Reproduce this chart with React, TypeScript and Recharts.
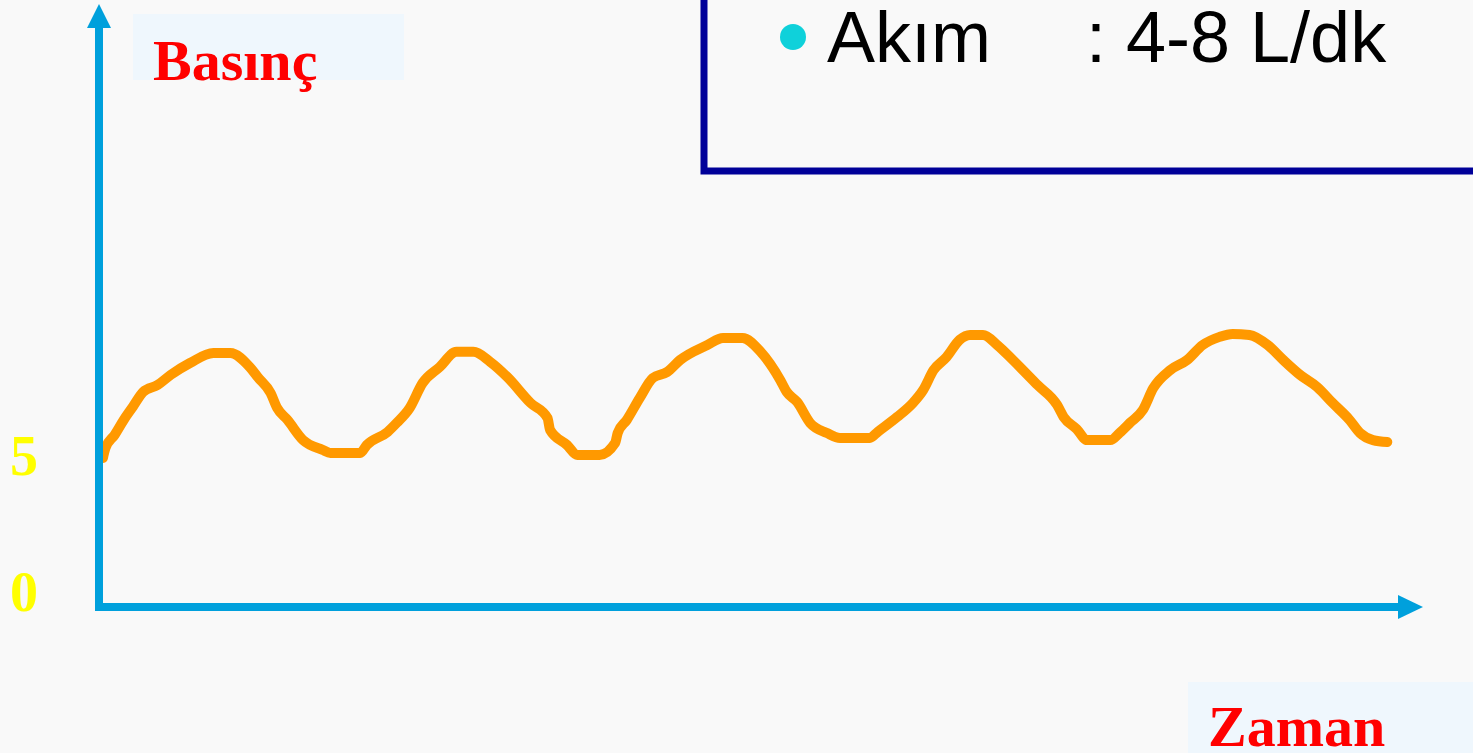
import { LineChart, Line, XAxis, YAxis } from "recharts";

// time (arbitrary units) and pressure
const time = [
  0.3, 0.5, 1.2, 1.9, 2.6, 3.4, 4.5, 5.5, 7.0, 8.8, 10.1, 11.6, 12.2, 13.2, 13.7, 14.5, 15.7, 17.2, 17.8, 20.1,
  20.6, 22.2, 22.9, 23.9, 24.9, 26.2, 27.5, 28.8, 30.1, 31.4, 33.2, 34.5, 34.7, 36.0, 36.8, 38.5, 39.7, 39.9,
  40.6, 41.6, 42.6, 43.7, 44.7, 46.8, 48.0, 49.5, 50.9, 52.4, 52.9, 53.7, 54.7, 56.0, 57.0, 59.3, 59.9, 61.4,
  62.6, 63.4, 64.2, 65.2, 66.2, 67.0, 68.0, 69.1, 70.3, 72.2, 73.7, 74.2, 75.2, 76.0, 77.8, 78.5, 79.3, 80.3,
  81.1, 82.4, 83.7, 84.9, 86.2, 87.2, 88.5, 89.9, 91.1, 92.4, 93.7, 94.9, 96.2, 97.0, 98.0, 99.1,
];
const pressure = [
  4.97, 5.34, 5.82, 6.37, 6.85, 7.4, 7.65, 8.02, 8.46, 8.83, 8.83, 8.31, 7.95, 7.36, 6.81, 6.37, 5.63, 5.27, 5.16, 5.16,
  5.45, 5.93, 6.26, 6.81, 7.73, 8.31, 8.87, 8.87, 8.5, 7.95, 6.99, 6.44, 6.0, 5.45, 5.08, 5.08, 5.52, 5.89,
  6.37, 7.18, 7.91, 8.13, 8.57, 9.12, 9.38, 9.38, 8.87, 7.84, 7.4, 7.03, 6.26, 5.89, 5.71, 5.71, 5.93, 6.48,
  6.99, 7.47, 8.2, 8.68, 9.31, 9.49, 9.49, 9.12, 8.57, 7.65, 6.92, 6.48, 6.04, 5.63, 5.63, 5.89, 6.26, 6.74,
  7.54, 8.2, 8.57, 9.12, 9.42, 9.53, 9.49, 9.12, 8.57, 8.02, 7.58, 6.99, 6.37, 5.89, 5.63, 5.56,
];
const yTicks = [0, 5];

const data = time.map((t, i) => ({ t, p: pressure[i] }));

const AXIS = "#00a0dc";
const SERIF = "'Liberation Serif', 'Times New Roman', serif";
const SANS = "'Liberation Sans', Arial, sans-serif";

function YTick({ y, payload }: any) {
  return (
    <text x={10} y={y + 18} fill="#ffff00" fontFamily={SERIF} fontWeight="bold" fontSize={56}>
      {payload.value}
    </text>
  );
}

export default function App() {
  return (
    <div style={{ position: "absolute", left: 0, top: 0, width: 1473, height: 753, background: "#f9f9f9", overflow: "hidden" }}>
      <LineChart width={1473} height={753} data={data} margin={{ top: 27, right: 74, bottom: 0, left: 0 }}>
        <XAxis
          dataKey="t"
          type="number"
          domain={[0, 100]}
          height={146}
          tick={false}
          tickLine={false}
          axisLine={{ stroke: AXIS, strokeWidth: 8, strokeLinecap: "square" }}
        />
        <YAxis
          type="number"
          domain={[-0.5, 20.8]}
          ticks={yTicks}
          width={99}
          tickLine={false}
          tick={<YTick />}
          axisLine={{ stroke: AXIS, strokeWidth: 8, strokeLinecap: "square" }}
        />
        <Line
          dataKey="p"
          type="monotone"
          stroke="#ff9900"
          strokeWidth={10}
          strokeLinecap="round"
          strokeLinejoin="round"
          dot={false}
          isAnimationActive={false}
        />
      </LineChart>

      {/* slide decorations: arrowheads, labels, info box */}
      <svg width={1473} height={753} style={{ position: "absolute", left: 0, top: 0, pointerEvents: "none" }}>
        <polygon points="99,4 87,28 111,28" fill={AXIS} />
        <polygon points="1423,607 1398,595 1398,619" fill={AXIS} />

        <rect x={133} y={14} width={271} height={66} fill="#eff7fd" />
        <text x={153} y={80} fill="#ff0000" fontFamily={SERIF} fontWeight="bold" fontSize={58}>Basınç</text>

        <rect x={1188} y={682} width={290} height={80} fill="#eff7fd" />
        <text x={1208} y={746} fill="#ff0000" fontFamily={SERIF} fontWeight="bold" fontSize={58}>Zaman</text>

        <rect x={704} y={-20} width={800} height={191} fill="none" stroke="#000099" strokeWidth={7} />
        <circle cx={793} cy={37} r={13} fill="#0fd1da" />
        <text y={62} fill="#000" fontFamily={SANS} fontSize={72}>
          <tspan x={827}>Akım</tspan>
          <tspan x={1086}>: 4-8 L/dk</tspan>
        </text>
      </svg>
    </div>
  );
}
